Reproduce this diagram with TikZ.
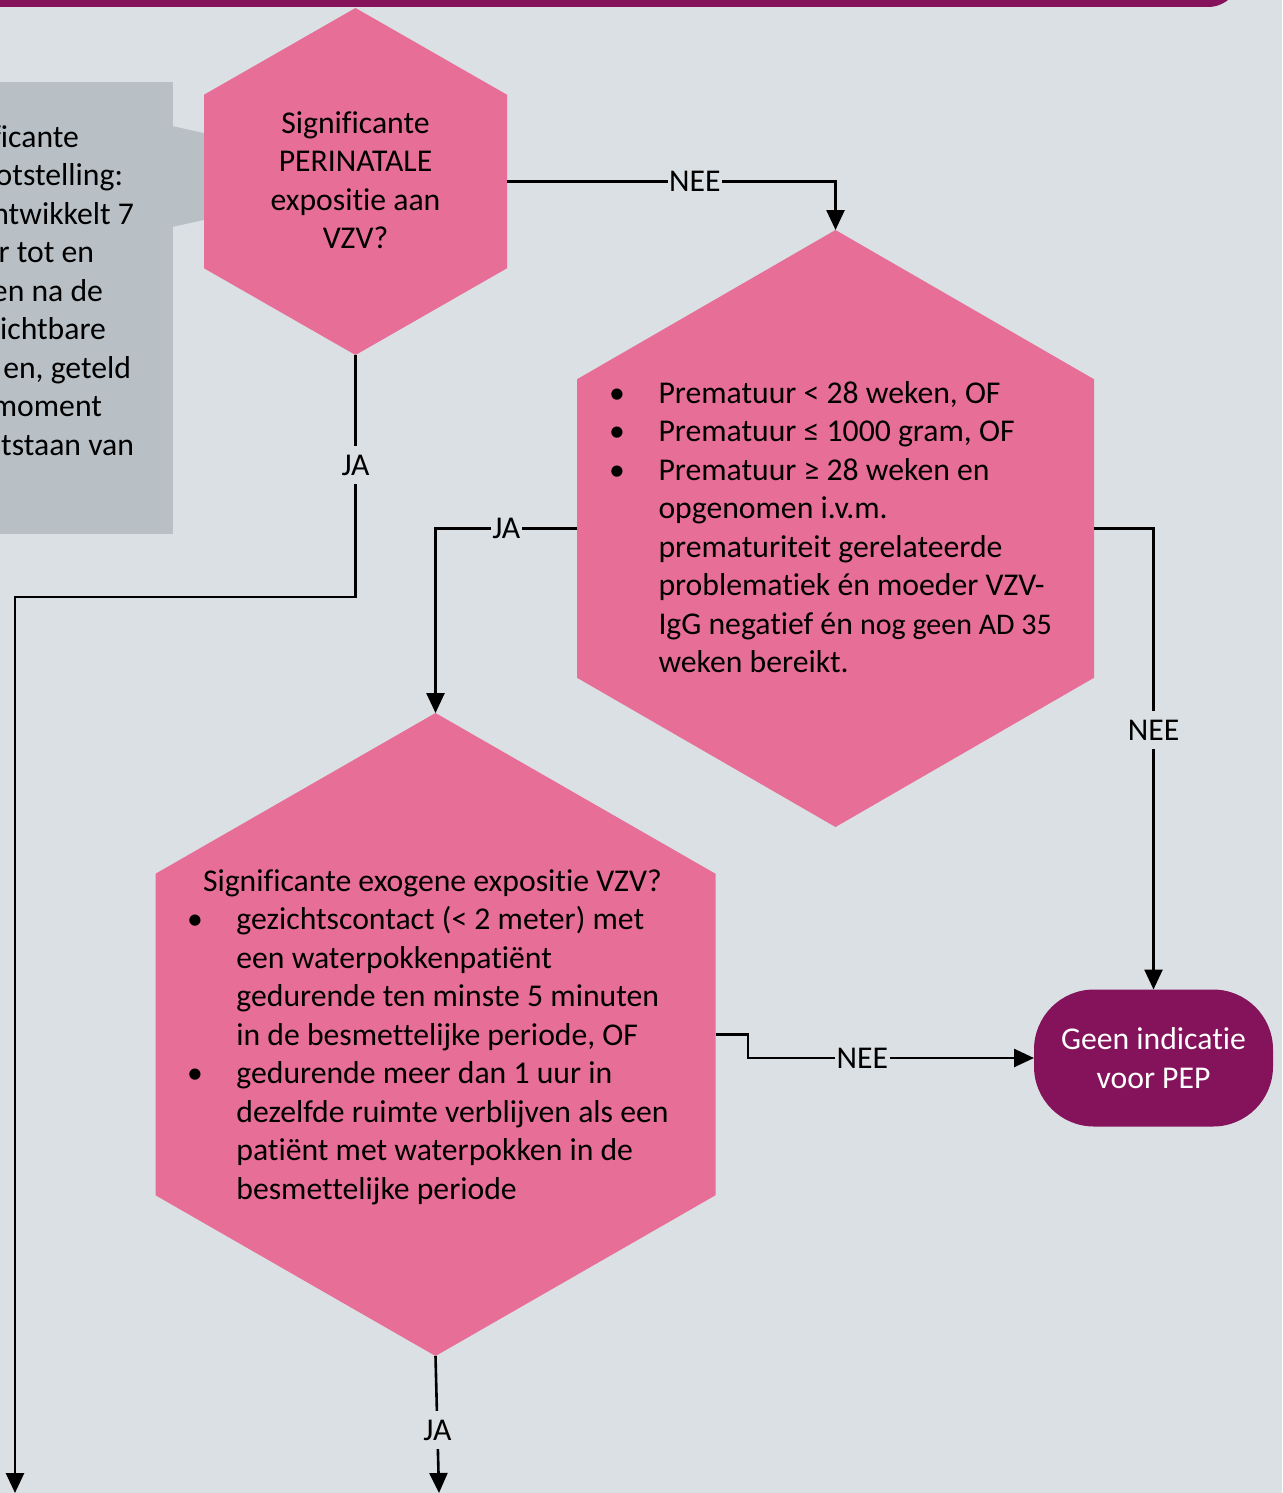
\documentclass[tikz,border=0pt]{standalone}
\usepackage{fontspec}
\setmainfont[RawFeature={-liga;-clig;-calt;-dlig}]{Carlito}
\usepackage{graphicx}
\usetikzlibrary{calc,arrows.meta}
\definecolor{bgc}{HTML}{DBE0E4}
\definecolor{pinkc}{HTML}{E76E96}
\definecolor{purplec}{HTML}{84135C}
\definecolor{greyc}{HTML}{B8C0C6}
\newcommand{\bul}{\llap{\makebox[83pt][c]{\textbullet}}}
\begin{document}
\begin{tikzpicture}[x=1pt,y=-1pt,
  hexbox/.style 2 args={minimum width=#1,minimum height=#2,inner sep=0,outer sep=0},
  txt/.style={font=\fontsize{31.7}{38.5}\selectfont,inner sep=0,outer sep=0,text=black},
  lbl/.style={txt,fill=bgc,inner xsep=1.5pt,inner ysep=9pt},
  conn/.style={line width=2.6pt,-{Triangle[length=20pt,width=18pt]}},
  term/.style={fill=purplec,rounded corners=60pt,minimum width=239pt,minimum height=137pt,
    inner sep=0,outer sep=0,text=white,align=center,font=\fontsize{31.7}{38.5}\selectfont}]
\useasboundingbox (0,0) rectangle (1282,1493);
\clip (0,0) rectangle (1282,1493);
\fill[bgc] (0,0) rectangle (1282,1493);
% top bar
\fill[purplec,rounded corners=32pt] (-40,-60) rectangle (1240,7);
% callout
\fill[greyc] (-10,82) rectangle (173,534);
\fill[greyc] (172,126) -- (215,135.5) -- (215,217.5) -- (172,227) -- cycle;
\node[txt,anchor=base east] (c1) at (79,147) {ficante};
\node[txt,anchor=base east] (c2) at (123,185.5) {otstelling:};
\node[txt,anchor=base east] (c3) at (134,224) {ntwikkelt 7};
\node[txt,anchor=base east] (c4) at (94,262.5) {r tot en};
\node[txt,anchor=base east] (c5) at (103,301) {en na de};
\node[txt,anchor=base east] (c6) at (106,339.5) {ichtbare};
\node[txt,anchor=base east] (c7) at (131,378) {en, geteld};
\node[txt,anchor=base east] (c8) at (102,416.5) {moment};
\node[txt,anchor=base east] (c9) at (134,455) {tstaan van};
% hexagons
\node[hexbox={303pt}{347pt}] (h1) at (355.5,181.5) {};
\node[hexbox={517pt}{597pt}] (h2) at (835.5,528.5) {};
\node[hexbox={560pt}{643pt}] (h3) at (435.5,1034.5) {};
\foreach \n in {h1,h2,h3}
  \fill[pinkc] (\n.north) -- ($(\n.north east)!.25!(\n.south east)$) -- ($(\n.north east)!.75!(\n.south east)$)
    -- (\n.south) -- ($(\n.north west)!.75!(\n.south west)$) -- ($(\n.north west)!.25!(\n.south west)$) -- cycle;
% terminal
\node[term] (t) at (1153.5,1058) {Geen indicatie\\voor PEP};
% texts
\node[txt,align=center,anchor=north] (t1) at (355.5,106) {\rule{0pt}{27pt}Significante\\PERINATALE\\expositie aan\\VZV?};
\node[txt,align=left,anchor=north west] (t2) at (658.5,376) {\rule{0pt}{27pt}\bul Prematuur < 28 weken, OF\\
\bul Prematuur ≤ 1000 gram, OF\\
\bul Prematuur ≥ 28 weken en\\
opgenomen i.v.m.\\
prematuriteit gerelateerde\\
problematiek én moeder VZV-\\
IgG negatief én {\fontsize{30}{38.5}\selectfont nog geen AD 35}\\
weken bereikt.};
\node[txt,anchor=base west] (t3) at (203,891) {Significante exogene expositie VZV?};
\node[txt,align=left,anchor=north west] (t4) at (236.4,902.5) {\rule{0pt}{27pt}\bul gezichtscontact (< 2 meter) met\\
een waterpokkenpatiënt\\
gedurende ten minste 5 minuten\\
in de besmettelijke periode, OF\\
\bul gedurende meer dan 1 uur in\\
dezelfde ruimte verblijven als een\\
patiënt met waterpokken in de\\
besmettelijke periode};
% connectors
\coordinate (endL) at (15,1493);
\coordinate (endM) at (439,1493);
\draw[conn] (h1.east) -- node[lbl,pos=0.572] (l1) {NEE} (h1.east -| h2.north) -- (h2.north);
\draw[conn] (h1.south) -- node[lbl,pos=0.455] (l2) {JA} (h1.south |- 0,597) -- (endL |- 0,597) -- (endL);
\draw[conn] (h2.west) -- node[lbl,pos=0.5] (l3) {JA} (h2.west -| h3.north) -- (h3.north);
\draw[conn] (h2.east) -- (h2.east -| t.north) -- node[lbl,pos=0.437] (l4) {NEE} (t.north);
\draw[conn] (h3.east) -- (748,1034.5) -- (748,1058) -- node[lbl,pos=0.40] (l5) {NEE} (t.west);
\draw[conn] (h3.south) -- node[lbl,pos=0.54] (l6) {JA} (endM);
\end{tikzpicture}
\end{document}
